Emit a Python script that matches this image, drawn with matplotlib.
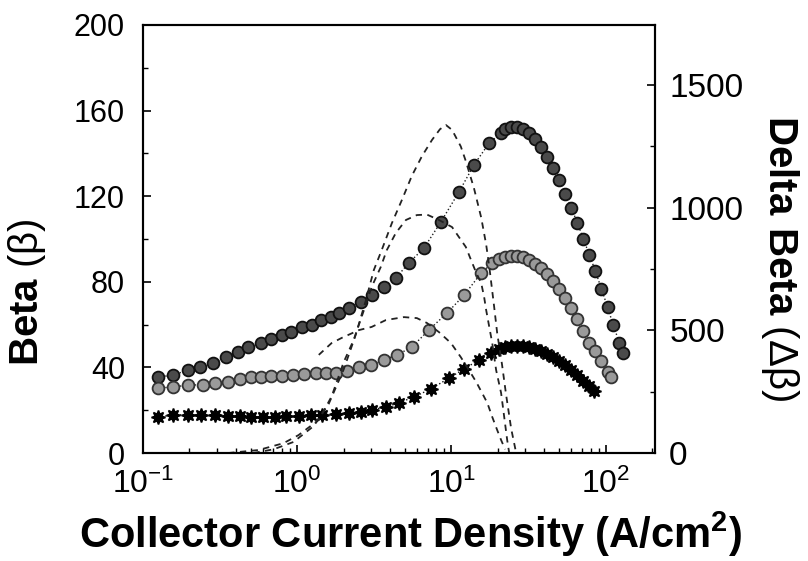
import numpy as np
import matplotlib
matplotlib.use("Agg")
import matplotlib.pyplot as plt
from matplotlib.ticker import MultipleLocator, LogLocator, NullFormatter

plt.rcParams['font.family'] = ['Liberation Sans', 'DejaVu Sans']
plt.rcParams['mathtext.fontset'] = 'custom'
plt.rcParams['mathtext.rm'] = 'Liberation Sans'
plt.rcParams['mathtext.bf'] = 'Liberation Sans:bold'
plt.rcParams['mathtext.default'] = 'regular'

# Beta vs collector current density (three devices)
j_a = [0.125, 0.157, 0.196, 0.235, 0.285, 0.347, 0.415, 0.482, 0.586, 0.681,
       0.791, 0.918, 1.07, 1.24, 1.42, 1.65, 1.86, 2.16, 2.58, 3.04,
       3.64, 4.36, 5.30, 6.64, 8.55, 11.2, 14.0, 17.6, 21.0, 22.3,
       24.4, 26.7, 29.2, 32.0, 35.0, 38.3, 41.9, 45.8, 50.1, 54.8,
       60.0, 65.6, 71.8, 78.5, 85.9, 94.0, 103, 112, 123, 129]
beta_a = [35.5, 36.4, 38.8, 40.2, 42.1, 44.9, 47.2, 49.5, 51.4, 53.3,
          55.1, 56.5, 58.9, 59.8, 62.1, 63.6, 65.4, 67.8, 70.6, 73.8,
          77.6, 81.8, 88.8, 95.8, 108, 122, 134.6, 144.9, 149.5, 151.4,
          152.3, 152.3, 151.4, 149.5, 146.7, 143, 138.3, 133.2, 127.6, 121,
          114.5, 107.5, 100, 92.5, 85, 76.6, 68.2, 59.8, 51.4, 46.7]

j_b = [0.125, 0.157, 0.196, 0.245, 0.294, 0.357, 0.428, 0.505, 0.586, 0.681,
       0.791, 0.946, 1.10, 1.32, 1.53, 1.78, 2.09, 2.51, 3.00, 3.64,
       4.43, 5.54, 7.15, 9.36, 12.1, 15.6, 18.4, 20.4, 22.3, 24.4,
       26.7, 29.2, 32.0, 35.0, 38.3, 41.9, 45.8, 50.1, 54.8, 60.0,
       65.6, 71.8, 78.5, 85.9, 94.0, 103, 109]
beta_b = [30.4, 30.8, 31.8, 31.8, 32.7, 33.2, 34.6, 35.5, 35.5, 36,
          36, 36.4, 36.9, 37.4, 37.4, 37.4, 38.3, 40.2, 41.1, 43.5,
          45.8, 49.5, 57.5, 65.4, 73.8, 84.1, 88.8, 90.7, 91.6, 92.1,
          92.1, 91.6, 90.2, 88.3, 86.4, 83.6, 80.4, 76.6, 72.4, 67.8,
          62.6, 57, 51.4, 47.5, 43, 38, 35.5]

j_c = [0.125, 0.157, 0.196, 0.238, 0.294, 0.357, 0.428, 0.505, 0.604, 0.723,
       0.851, 1.02, 1.22, 1.44, 1.78, 2.16, 2.58, 3.04, 3.75, 4.56,
       5.71, 7.36, 9.64, 12.1, 15.1, 18.1, 20.4, 22.3, 24.4, 26.7,
       29.2, 32.0, 35.0, 38.3, 41.9, 45.8, 50.1, 54.8, 60.0, 65.6,
       71.8, 78.5, 84.7]
beta_c = [16.8, 17.8, 17.8, 17.8, 17.8, 17.3, 17.3, 16.8, 16.8, 16.8,
          17.3, 17.3, 17.8, 17.8, 18.2, 18.7, 19.2, 20.1, 21.5, 23.4,
          26.2, 29.9, 35, 39.3, 43.5, 46.7, 48.6, 49.5, 50, 50,
          50, 49.5, 48.6, 47.7, 46.3, 44.9, 43, 41.1, 38.8, 36.4,
          33.6, 31.3, 29]

# Delta beta curves (right axis)
j_d1 = [0.520, 0.702, 0.946, 1.28, 1.60, 2.00, 2.39, 2.78, 3.14, 3.53,
        4.11, 4.77, 5.54, 6.44, 7.48, 8.43, 9.22, 10.1, 11.5, 12.4,
        14.0, 15.6, 16.8, 17.6, 18.9, 19.8, 21.3, 22.6, 24.4, 26.3]
dbeta_d1 = [0, 15, 45, 110, 200, 340, 480, 620, 746, 827,
            937, 1031, 1130, 1210, 1276, 1320, 1337, 1317, 1250, 1190,
            1080, 960, 850, 760, 600, 490, 360, 240, 100, 0]

j_d2 = [0.357, 0.560, 0.815, 1.02, 1.38, 1.67, 2.00, 2.32, 2.70, 3.04,
        3.48, 3.81, 4.36, 5.07, 5.97, 6.94, 8.30, 10.1, 11.2, 12.4,
        13.4, 14.5, 15.6, 16.3, 16.8, 17.6, 18.4, 19.5, 21.0, 22.0,
        23.0, 23.7]
dbeta_d2 = [0, 12, 40, 73, 135, 230, 370, 460, 580, 677,
            758, 827, 897, 950, 970, 972, 950, 921, 880, 840,
            787, 734, 693, 636, 583, 514, 448, 338, 245, 147,
            53, 0]

j_d3 = [1.38, 1.67, 1.94, 2.51, 3.04, 3.76, 4.92, 5.97, 6.94, 8.30,
        9.94, 11.5, 13.0, 14.5, 15.8, 17.1, 18.4, 19.8, 21.0, 22.3]
dbeta_d3 = [400, 448, 469, 501, 514, 542, 554, 550, 530, 493,
            448, 391, 338, 289, 245, 204, 147, 94, 53, 15]

fig = plt.figure(figsize=(8.08, 5.61), dpi=100)
ax = fig.add_axes([0.177, 0.1925, 0.634, 0.763])
ax2 = ax.twinx()

# beta curves
ax.plot(j_a, beta_a, ':', color='#222222', lw=1,
        marker='o', ms=8.5, mfc='#4a4a4a', mec='#111111', mew=1.3)
ax.plot(j_b, beta_b, ':', color='#222222', lw=1,
        marker='o', ms=8.5, mfc='#9a9a9a', mec='#333333', mew=1.3)
ax.plot(j_c, beta_c, ':', color='#111111', lw=1,
        marker=(8, 1, 0), ms=10, mfc='#000000', mec='#000000', mew=1.2)

# delta beta curves
for jj, dd in [(j_d1, dbeta_d1), (j_d2, dbeta_d2), (j_d3, dbeta_d3)]:
    ax2.plot(jj, dd, '--', color='#222222', lw=1.3, dashes=(3.5, 3))

ax.set_xscale('log')
ax.set_xlim(0.1, 210)
ax.set_ylim(0, 200)
ax2.set_ylim(0, 1745)

ax.set_yticks([0, 40, 80, 120, 160, 200])
ax.yaxis.set_minor_locator(MultipleLocator(20))
ax2.set_yticks([0, 500, 1000, 1500])
ax2.yaxis.set_minor_locator(MultipleLocator(250))
ax.xaxis.set_major_locator(LogLocator(base=10, numticks=10))
ax.xaxis.set_minor_locator(LogLocator(base=10, subs=np.arange(2, 10), numticks=20))
ax.xaxis.set_minor_formatter(NullFormatter())

ax.tick_params(axis='both', which='major', direction='in', length=6, width=1.2,
               top=False, right=False)
ax.tick_params(axis='both', which='minor', direction='in', length=3.5, width=1,
               top=False, right=False)
ax.tick_params(axis='y', which='major', labelsize=22, pad=13)
ax.tick_params(axis='x', which='major', labelsize=23, pad=11)
ax2.tick_params(axis='y', which='major', direction='in', length=6, width=1.2,
                labelsize=24, pad=10)
ax2.tick_params(axis='y', which='minor', direction='in', length=3.5, width=1)

for a in (ax, ax2):
    for s in a.spines.values():
        s.set_linewidth(1.5)

# axis titles
fig.text(410 / 808, 1 - 534 / 561, r'Collector Current Density (A/cm$^\mathbf{2}$)',
         fontsize=30, fontweight='bold', ha='center', va='center')
fig.text(27 / 808, 1 - 292 / 561, r'$\mathbf{Beta}$ (β)',
         fontsize=29, rotation=90, ha='center', va='center')
fig.text(780 / 808, 1 - 258 / 561, r'$\mathbf{Delta\ Beta}$ (Δβ)',
         fontsize=29, rotation=-90, ha='center', va='center')

fig.savefig('out.png', dpi=100)
